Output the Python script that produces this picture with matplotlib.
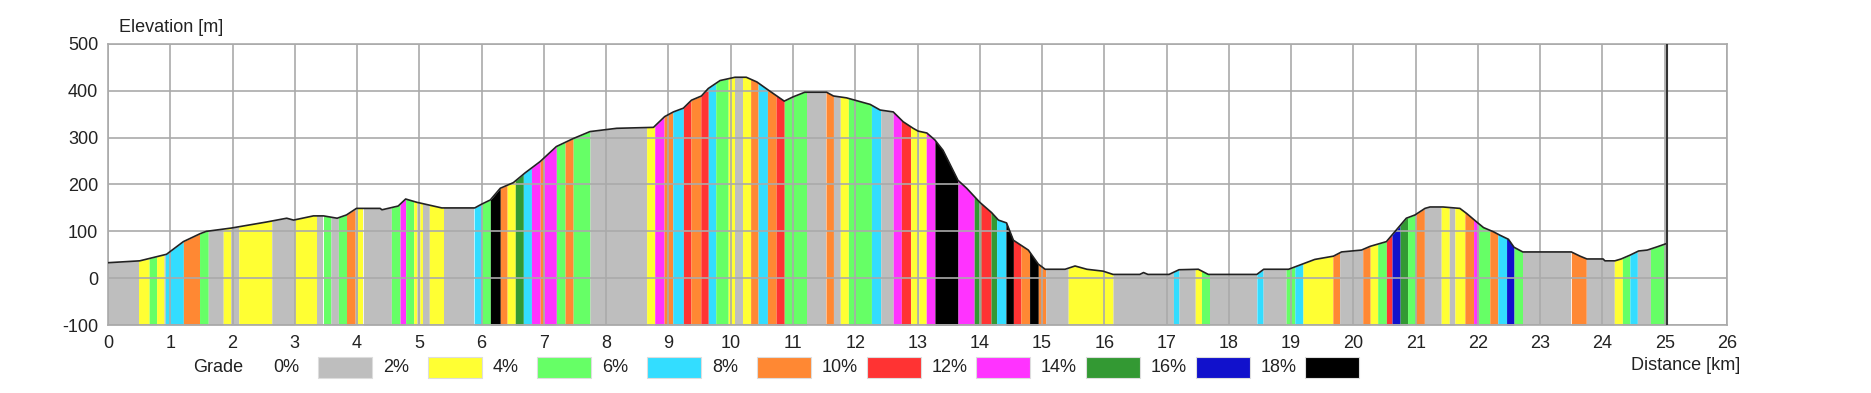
import numpy as np
import matplotlib
matplotlib.use("Agg")
import matplotlib.pyplot as plt
from matplotlib.patches import Rectangle

plt.rcParams['font.family'] = ['Liberation Sans', 'DejaVu Sans']
plt.rcParams['axes.unicode_minus'] = False

# elevation profile (km, m)
profile_km = np.array([
    0.00, 0.51, 0.94, 1.21, 1.48, 1.58, 1.98, 2.55, 2.87, 2.98, 3.30, 3.46, 3.68, 3.83, 3.99,
    4.37, 4.40, 4.66, 4.78, 4.96, 5.36, 5.89, 6.00, 6.14, 6.30, 6.51, 6.70, 6.94, 7.20, 7.47,
    7.74, 8.17, 8.76, 8.94, 9.08, 9.24, 9.37, 9.53, 9.64, 9.83, 10.07, 10.25, 10.42, 10.60,
    10.86, 11.00, 11.19, 11.54, 11.65, 11.86, 12.24, 12.40, 12.61, 12.77, 12.93, 13.01, 13.15,
    13.28, 13.41, 13.65, 13.79, 14.00, 14.19, 14.30, 14.43, 14.54, 14.78, 14.94, 15.05, 15.37,
    15.53, 15.72, 15.98, 16.14, 16.57, 16.63, 16.70, 17.04, 17.20, 17.51, 17.67, 18.45, 18.56,
    18.96, 19.20, 19.38, 19.68, 19.81, 20.13, 20.27, 20.53, 20.69, 20.85, 20.99, 21.15, 21.23,
    21.44, 21.71, 21.82, 21.98, 22.09, 22.25, 22.35, 22.49, 22.58, 22.72, 23.50, 23.64, 23.75,
    24.01, 24.04, 24.20, 24.30, 24.44, 24.58, 24.72, 24.88, 25.03])
profile_elev = np.array([
    33, 37, 51, 78, 95, 100, 107, 120, 128, 124, 133, 133, 128, 135, 149,
    149, 146, 154, 169, 162, 150, 150, 158, 167, 192, 204, 225, 249, 281, 298,
    313, 320, 322, 345, 355, 363, 380, 389, 405, 422, 429, 429, 419, 402,
    378, 387, 397, 397, 389, 385, 371, 359, 355, 334, 320, 314, 310,
    295, 273, 209, 192, 162, 140, 124, 118, 81, 60, 30, 19, 19,
    26, 19, 15, 8, 8, 12, 8, 8, 18, 19, 8, 8, 19,
    19, 31, 40, 47, 56, 60, 68, 78, 103, 128, 135, 149, 152,
    152, 149, 138, 120, 108, 99, 92, 83, 66, 56, 56, 47, 41,
    41, 37, 37, 41, 49, 58, 60, 67, 74])

# grade segments: edges (km) and grade class (0 = 0-2%, ..., 9 = >18%)
seg_edges = [
    0.00, 0.49, 0.66, 0.78, 0.90, 0.92, 1.21, 1.47, 1.61, 1.85, 1.97, 2.10, 2.63, 3.00, 3.35,
    3.46, 3.58, 3.70, 3.83, 3.97, 4.02, 4.10, 4.55, 4.69, 4.78, 4.91, 4.96, 5.01, 5.05, 5.16,
    5.40, 5.88, 6.00, 6.14, 6.30, 6.41, 6.54, 6.67, 6.80, 6.94, 7.00, 7.20, 7.34, 7.47, 7.74,
    8.65, 8.78, 8.93, 9.07, 9.24, 9.36, 9.52, 9.64, 9.76, 9.96, 10.07, 10.19, 10.32, 10.44,
    10.59, 10.73, 10.86, 11.22, 11.53, 11.65, 11.76, 11.89, 12.26, 12.41, 12.61, 12.74, 12.89,
    13.00, 13.02, 13.14, 13.28, 13.65, 13.91, 14.02, 14.18, 14.27, 14.42, 14.54, 14.66, 14.80,
    14.94, 15.06, 15.42, 16.14, 17.11, 17.20, 17.46, 17.56, 17.69, 18.45, 18.55, 18.92, 19.06,
    19.19, 19.67, 19.78, 20.15, 20.27, 20.39, 20.53, 20.62, 20.75, 20.87, 21.00, 21.14, 21.41,
    21.54, 21.63, 21.79, 21.93, 22.01, 22.19, 22.32, 22.46, 22.58, 22.72, 23.50, 23.74, 24.19,
    24.32, 24.44, 24.56, 24.77, 25.03]
seg_grade = [
    0, 1, 2, 1, 0, 3, 4, 2, 0, 1, 0, 1, 0, 1,
    0, 2, 0, 2, 4, 0, 1, 0, 2, 6, 2, 1, 0, 1, 0,
    1, 0, 3, 2, 9, 4, 1, 7, 3, 6, 4, 6, 2, 4, 2,
    0, 1, 6, 4, 3, 5, 4, 5, 3, 2, 1, 0, 1, 4,
    3, 4, 5, 2, 0, 4, 0, 1, 2, 3, 0, 6, 5,
    1, 0, 1, 6, 9, 6, 7, 5, 7, 3, 9, 5, 4,
    9, 4, 0, 1, 0, 3, 0, 1, 2, 0, 3, 0, 2,
    3, 1, 4, 0, 4, 1, 2, 5, 8, 7, 2, 4, 0,
    1, 0, 1, 4, 6, 2, 4, 3, 8, 2, 0, 4, 0,
    1, 2, 3, 0, 2]

grade_labels = ['0%', '2%', '4%', '6%', '8%', '10%', '12%', '14%', '16%', '18%']
grade_colors = ['#bebebe', '#ffff33', '#66ff66', '#33ddff', '#ff8833',
                '#ff3333', '#ff33ff', '#339933', '#1111cc', '#000000']

W, H = 1871, 393
fig = plt.figure(figsize=(W / 100, H / 100), dpi=100)
ax = fig.add_axes([108 / W, 1 - 325 / H, 1619 / W, 281 / H])

# coloured grade bands under the profile
for i, g in enumerate(seg_grade):
    a, b = seg_edges[i], seg_edges[i + 1]
    inner = profile_km[(profile_km > a) & (profile_km < b)]
    xs = np.concatenate([[a], inner, [b]])
    ys = np.interp(xs, profile_km, profile_elev)
    ax.fill_between(xs, -100, ys, color=grade_colors[g], lw=0, zorder=1)

ax.plot(profile_km, profile_elev, color='#222222', lw=1.2, zorder=3)
ax.axvline(profile_km[-1], color='#333333', lw=1.5, zorder=3)

ax.set_xlim(0, 26)
ax.set_ylim(-100, 500)
ax.set_xticks(range(0, 27))
ax.set_yticks(range(-100, 501, 100))
ax.grid(True, color='#aaaaaa', lw=1.2, zorder=2)
ax.set_axisbelow(False)
for s in ax.spines.values():
    s.set_color('#aaaaaa')
    s.set_linewidth(1.2)
ax.tick_params(length=0, labelsize=13, labelcolor='#222222')
ax.tick_params(axis='y', pad=7)
ax.tick_params(axis='x', pad=7)

fig.text(119 / W, 1 - 27 / H, 'Elevation [m]', fontsize=13, color='#222222', va='center')
fig.text(1740 / W, 1 - 365 / H, 'Distance [km]', fontsize=13, color='#222222',
         va='center', ha='right')

# legend row
fig.text(193 / W, 1 - 368 / H, 'Grade', fontsize=13, color='#222222', va='center')
for i, (lab, col) in enumerate(zip(grade_labels, grade_colors)):
    bx = 318 + i * 109.7
    fig.text((bx - 45) / W, 1 - 368 / H, lab, fontsize=13, color='#222222', va='center')
    fig.patches.append(Rectangle((bx / W, 1 - 378 / H), 54 / W, 21 / H,
                                 transform=fig.transFigure, facecolor=col,
                                 edgecolor='#dddddd', lw=0.8))

fig.savefig('out.png', dpi=100)
